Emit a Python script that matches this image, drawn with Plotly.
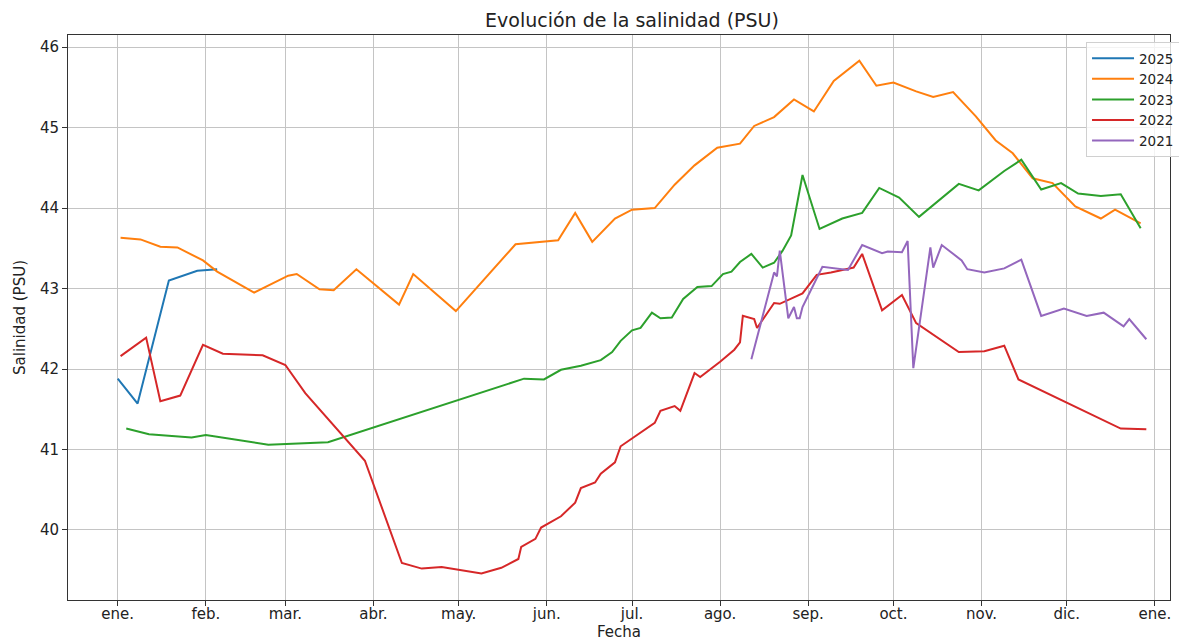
import plotly.graph_objects as go

# ---- data (common reference year for the x axis) ----
dates_2025 = ["01-01", "01-08", "01-19", "01-29", "02-05"]
sal_2025 = [41.88, 41.57, 43.10, 43.22, 43.24]

dates_2024 = ["01-02", "01-09", "01-16", "01-22", "01-31", "02-05", "02-18", "03-02", "03-05", "03-13",
              "03-18", "03-26", "04-10", "04-15", "04-30", "05-13", "05-21", "06-05", "06-11", "06-17",
              "06-25", "07-01", "07-09", "07-16", "07-23", "07-31", "08-08", "08-13", "08-20", "08-27",
              "09-03", "09-10", "09-19", "09-25", "10-01", "10-09", "10-15", "10-22", "10-30", "11-06",
              "11-12", "11-19", "11-26", "12-04", "12-13", "12-18", "12-27"]
sal_2024 = [43.63, 43.61, 43.52, 43.51, 43.35, 43.21, 42.95, 43.16, 43.18, 42.99,
            42.98, 43.24, 42.80, 43.18, 42.72, 43.23, 43.55, 43.60, 43.94, 43.58,
            43.87, 43.98, 44.00, 44.29, 44.53, 44.75, 44.80, 45.02, 45.13, 45.35,
            45.20, 45.58, 45.83, 45.52, 45.56, 45.45, 45.38, 45.44, 45.14, 44.84,
            44.68, 44.37, 44.31, 44.02, 43.87, 43.98, 43.81]

dates_2023 = ["01-04", "01-12", "01-27", "02-01", "02-23", "03-16", "05-24", "05-31", "06-06", "06-13",
              "06-20", "06-24", "06-27", "07-01", "07-04", "07-08", "07-11", "07-15", "07-19", "07-24",
              "07-29", "08-02", "08-05", "08-08", "08-12", "08-16", "08-20", "08-23", "08-26", "08-30",
              "09-05", "09-13", "09-20", "09-26", "10-03", "10-10", "10-24", "10-31", "11-09", "11-15",
              "11-22", "11-29", "12-05", "12-13", "12-20", "12-27"]
sal_2023 = [41.26, 41.19, 41.15, 41.18, 41.06, 41.09, 41.88, 41.87, 41.99, 42.04,
            42.11, 42.21, 42.35, 42.48, 42.51, 42.70, 42.63, 42.64, 42.87, 43.02,
            43.03, 43.18, 43.21, 43.33, 43.43, 43.26, 43.32, 43.47, 43.66, 44.41,
            43.74, 43.87, 43.94, 44.25, 44.13, 43.89, 44.30, 44.22, 44.46, 44.60,
            44.23, 44.31, 44.18, 44.15, 44.17, 43.75]

dates_2022 = ["01-02", "01-11", "01-16", "01-23", "01-31", "02-07", "02-21", "03-01", "03-08", "03-29",
              "04-11", "04-18", "04-25", "05-09", "05-16", "05-22", "05-23", "05-28", "05-30", "06-06",
              "06-11", "06-13", "06-18", "06-20", "06-25", "06-27", "07-09", "07-11", "07-16", "07-18",
              "07-23", "07-25", "08-01", "08-06", "08-08", "08-09", "08-13", "08-14", "08-20", "08-22",
              "08-30", "09-04", "09-09", "09-17", "09-20", "09-27", "10-04", "10-09", "10-24", "11-02",
              "11-09", "11-14", "12-20", "12-29"]
sal_2022 = [42.16, 42.39, 41.60, 41.67, 42.30, 42.19, 42.17, 42.05, 41.70, 40.86,
            39.59, 39.52, 39.54, 39.46, 39.53, 39.64, 39.79, 39.89, 40.03, 40.17,
            40.34, 40.52, 40.59, 40.70, 40.84, 41.04, 41.33, 41.48, 41.54, 41.48,
            41.95, 41.90, 42.09, 42.24, 42.33, 42.66, 42.62, 42.51, 42.82, 42.81,
            42.94, 43.17, 43.20, 43.26, 43.43, 42.73, 42.92, 42.57, 42.21, 42.22,
            42.29, 41.87, 41.26, 41.25]

dates_2021 = ["08-12", "08-20", "08-21", "08-22", "08-25", "08-27", "08-28", "08-29", "08-30", "09-06",
              "09-15", "09-20", "09-27", "09-29", "10-04", "10-06", "10-08", "10-14", "10-15", "10-18",
              "10-25", "10-27", "11-02", "11-09", "11-15", "11-22", "11-30", "12-08", "12-14", "12-21",
              "12-23", "12-29"]
sal_2021 = [42.12, 43.20, 43.15, 43.47, 42.63, 42.77, 42.63, 42.63, 42.77, 43.27,
            43.23, 43.54, 43.44, 43.46, 43.45, 43.59, 42.01, 43.51, 43.26, 43.54,
            43.35, 43.24, 43.20, 43.25, 43.36, 42.66, 42.75, 42.66, 42.70, 42.53,
            42.62, 42.37]

month_ticks = ["2021-01-01", "2021-02-01", "2021-03-01", "2021-04-01", "2021-05-01", "2021-06-01",
               "2021-07-01", "2021-08-01", "2021-09-01", "2021-10-01", "2021-11-01", "2021-12-01",
               "2022-01-01"]
month_labels = ["ene.", "feb.", "mar.", "abr.", "may.", "jun.", "jul.", "ago.", "sep.", "oct.",
                "nov.", "dic.", "ene."]

series = [
    ("2025", dates_2025, sal_2025, "#1f77b4"),
    ("2024", dates_2024, sal_2024, "#ff7f0e"),
    ("2023", dates_2023, sal_2023, "#2ca02c"),
    ("2022", dates_2022, sal_2022, "#d62728"),
    ("2021", dates_2021, sal_2021, "#9467bd"),
]

fig = go.Figure()
for name, d, v, c in series:
    fig.add_trace(go.Scatter(
        x=["2021-" + s for s in d], y=v, mode="lines", name=name,
        line=dict(color=c, width=2),
    ))

FONT = "DejaVu Sans"
axis_common = dict(
    showline=True, linecolor="#333333", linewidth=1, mirror=True,
    showgrid=True, gridcolor="#c4c4c4", gridwidth=1,
    ticks="outside", ticklen=5, tickcolor="#333333",
    tickfont=dict(family=FONT, size=15, color="#222222"),
    zeroline=False, automargin=False,
)

fig.update_layout(
    width=1187, height=640,
    margin=dict(l=60, r=25, t=27, b=48, autoexpand=False),
    paper_bgcolor="white", plot_bgcolor="white",
    title=dict(text="Evolución de la salinidad (PSU)", x=0.5257, xanchor="center",
               y=0.981, yanchor="middle", yref="container", automargin=False,
               font=dict(family=FONT, size=19, color="#222222")),
    font=dict(family=FONT, size=15, color="#222222"),
    showlegend=True,
    legend=dict(x=0.9238, xanchor="left", y=0.9876, yanchor="top",
                bgcolor="rgba(255,255,255,0.8)", bordercolor="#d0d0d0", borderwidth=1,
                font=dict(family=FONT, size=13.5, color="#222222"),
                itemwidth=42, tracegroupgap=0),
    xaxis=dict(
        type="date",
        range=["2020-12-14 12:00", "2022-01-06 08:00"],
        tickmode="array", tickvals=month_ticks, ticktext=month_labels,
        ticklabelstandoff=-5,
        **axis_common,
    ),
    yaxis=dict(
        range=[39.13, 46.15], tickmode="linear", tick0=40, dtick=1,
        title=dict(text="Salinidad (PSU)", font=dict(family=FONT, size=15), standoff=10),
        **axis_common,
    ),
    annotations=[dict(text="Fecha", xref="paper", yref="paper", x=0.5, y=-0.0566,
                      xanchor="center", yanchor="middle", showarrow=False,
                      font=dict(family=FONT, size=15, color="#222222"))],
)

fig.write_html("out.html")
